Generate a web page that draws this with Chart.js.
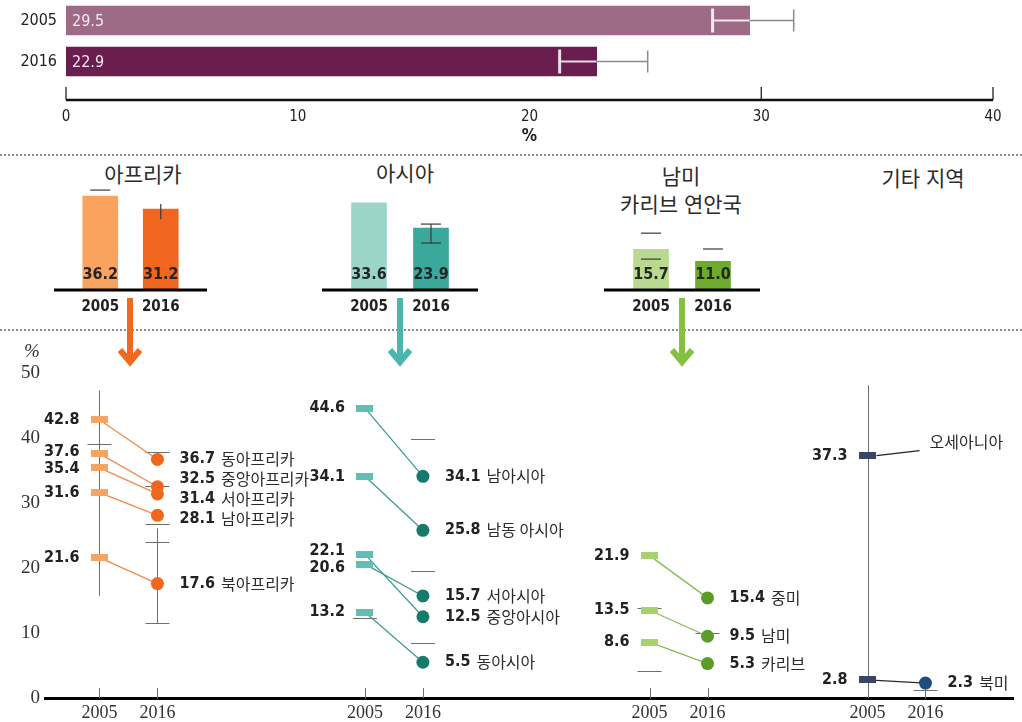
<!DOCTYPE html>
<html lang="ko">
<head>
<meta charset="utf-8">
<title>빈곤율 2005–2016</title>
<script src="https://cdn.jsdelivr.net/npm/chart.js@4.4.1/dist/chart.umd.min.js"></script>
<style>
  html, body { margin: 0; padding: 0; background: #fff; }
  #page { position: relative; width: 1022px; height: 722px; overflow: hidden; background: #fff;
          font-family: 'Noto Sans CJK KR', 'Noto Sans', sans-serif; color: #2b2b2b; }
  .panel { position: absolute; }
  .dots { position: absolute; left: 0; width: 1022px; height: 0; border-top: 2px dotted #8c8c8c; }
  .title { position: absolute; width: 200px; text-align: center; font-size: 21px; line-height: 28px; }
  #pct { position: absolute; left: 24px; top: 340px; font: italic 19px 'Liberation Serif', serif; color: #333; }
  #arrows { position: absolute; left: 0; top: 0; pointer-events: none; }
</style>
</head>
<body>
<div id="page">
  <div class="panel" style="left:0;top:0;width:1022px;height:150px"><canvas id="worldChart"></canvas></div>
  <div class="dots" style="top:154px"></div>

  <div class="title" style="left:43px;top:159px">아프리카</div>
  <div class="title" style="left:305px;top:158px">아시아</div>
  <div class="title" style="left:581px;top:161px">남미<br>카리브 연안국</div>
  <div class="title" style="left:823px;top:163px">기타 지역</div>

  <div class="panel" style="left:50px;top:181px;width:161px;height:139px"><canvas id="africaChart"></canvas></div>
  <div class="panel" style="left:318px;top:181px;width:164px;height:139px"><canvas id="asiaChart"></canvas></div>
  <div class="panel" style="left:600px;top:181px;width:164px;height:139px"><canvas id="latamChart"></canvas></div>

  <div class="dots" style="top:329px"></div>

  <div class="panel" style="left:0;top:340px;width:1022px;height:382px"><canvas id="regionChart"></canvas></div>
  <div id="pct">%</div>

  <svg id="arrows" width="1022" height="722">
    <g fill="none" stroke-width="6" stroke-linejoin="miter">
      <path d="M130 298 V362 M120 350 L130 362 L140 350" stroke="#ee6a1f"/>
      <path d="M400 298 V362 M390 350 L400 362 L410 350" stroke="#4bb6ad"/>
      <path d="M682 298 V362 M672 350 L682 362 L692 350" stroke="#84c042"/>
    </g>
  </svg>
</div>

<script>
// ---- data ----
const years = ['2005', '2016'];

// world total, with confidence range
const worldValues = [29.5, 22.9];
const worldCI = [[27.9, 31.4], [21.3, 25.1]];
const worldAxisMarks = [0, 30, 40];

// regional totals
const africaTotal = [36.2, 31.2];
const asiaTotal = [33.6, 23.9];
const latamTotal = [15.7, 11.0];
// error marks on the regional bars: cap values and vertical stems
const africaTotalCaps = [[38.5], []];
const africaTotalStems = [null, [27.3, 33.1]];
const asiaTotalCaps = [[], [18.1, 25.4]];
const asiaTotalStems = [null, [18.1, 25.4]];
const latamTotalCaps = [[11.9, 21.9], [15.8]];
const latamTotalStems = [null, null];

// subregions
const africaNames = ['동아프리카', '중앙아프리카', '서아프리카', '남아프리카', '북아프리카'];
const africa2005 = [42.8, 37.6, 35.4, 31.6, 21.6];
const africa2016 = [36.7, 32.5, 31.4, 28.1, 17.6];

const asiaNames = ['남아시아', '남동 아시아', '서아시아', '중앙아시아', '동아시아'];
const asia2005 = [44.6, 34.1, 20.6, 22.1, 13.2];
const asia2016 = [34.1, 25.8, 15.7, 12.5, 5.5];

const latamNames = ['중미', '남미', '카리브'];
const latam2005 = [21.9, 13.5, 8.6];
const latam2016 = [15.4, 9.5, 5.3];

const otherNames = ['오세아니아', '북미'];
const other2005 = [37.3, 2.8];
const other2016 = [null, 2.3];

// grey range lines [slot, low, high] and dashes [slot, value]
const africaRanges = [[0, 15.7, 47.3], [1, 11.4, 26.1]];
const africaDashes = [[0, 39.1], [1, 37.8], [1, 32.6], [1, 26.7], [1, 24.0], [1, 11.6]];
const asiaRanges = [];
const asiaDashes = [[0, 12.3], [1, 39.8], [1, 19.6], [1, 8.4]];
const latamRanges = [];
const latamDashes = [[0, 13.9], [0, 4.2], [1, 10.0]];
const otherRanges = [[0, 0, 48.1]];
const otherDashes = [[1, 1.3]];

// ---- look ----
const NARROW = "'Liberation Sans Narrow', 'DejaVu Sans Condensed', 'Roboto', sans-serif";
const SERIF = "'Liberation Serif', 'DejaVu Serif', serif";
const HANGUL = "'Noto Sans CJK KR', 'Noto Sans', sans-serif";

const worldColors = ['#9d6b86', '#6a1d4f'];
const groupSlot = [0, 4.58, 9.49, 13.25];   // x position of each group's 2005 column
const groupColors = [
  { light: '#f8a35f', dark: '#f0661c', line: '#f0894b' },
  { light: '#5fbfb3', dark: '#167a6c', line: '#3c9d90' },
  { light: '#a6d16c', dark: '#5a9c28', line: '#86bd50' },
  { light: '#3a4563', dark: '#1d4e7c', line: '#2a2a2a' }
];

Chart.defaults.font.family = NARROW;
Chart.defaults.color = '#222';
Chart.defaults.animation = false;
Chart.defaults.maintainAspectRatio = false;
Chart.defaults.plugins.legend.display = false;
Chart.defaults.plugins.tooltip.enabled = false;

// ---- world bars ----
const worldDecor = {
  id: 'worldDecor',
  afterDatasetsDraw(chart) {
    const { ctx, chartArea, scales: { x } } = chart;
    const axisY = chartArea.bottom + 18;
    ctx.save();
    ctx.strokeStyle = '#111';
    ctx.lineWidth = 2.5;
    ctx.beginPath();
    ctx.moveTo(x.left, axisY);
    ctx.lineTo(x.right, axisY);
    ctx.stroke();
    ctx.lineWidth = 1.2;
    worldAxisMarks.forEach(v => {
      const px = x.getPixelForValue(v);
      ctx.beginPath();
      ctx.moveTo(px, axisY);
      ctx.lineTo(px, axisY - 13);
      ctx.stroke();
    });

    const bars = chart.getDatasetMeta(0).data;
    bars.forEach((bar, i) => {
      const [lo, hi] = worldCI[i];
      const pLo = x.getPixelForValue(lo);
      const pHi = x.getPixelForValue(hi);
      const end = bar.x;
      const y = bar.y;
      // part of the range inside the bar
      ctx.strokeStyle = 'rgba(255,255,255,0.85)';
      ctx.lineWidth = 2;
      ctx.beginPath();
      ctx.moveTo(pLo, y);
      ctx.lineTo(Math.min(pHi, end), y);
      ctx.stroke();
      ctx.lineWidth = 3;
      ctx.beginPath();
      ctx.moveTo(pLo, y - 12);
      ctx.lineTo(pLo, y + 12);
      ctx.stroke();
      // part sticking out of the bar
      if (pHi > end) {
        ctx.strokeStyle = '#8a8a8a';
        ctx.lineWidth = 1.5;
        ctx.beginPath();
        ctx.moveTo(end, y);
        ctx.lineTo(pHi, y);
        ctx.moveTo(pHi, y - 11);
        ctx.lineTo(pHi, y + 11);
        ctx.stroke();
      }
      ctx.fillStyle = '#f4e8ee';
      ctx.font = '16px ' + NARROW;
      ctx.textAlign = 'left';
      ctx.textBaseline = 'middle';
      ctx.fillText(worldValues[i].toFixed(1), bar.base + 6, y + 1);
    });
    ctx.restore();
  }
};

new Chart(document.getElementById('worldChart'), {
  type: 'bar',
  data: {
    labels: years,
    datasets: [{ data: worldValues, backgroundColor: worldColors, barThickness: 29 }]
  },
  options: {
    indexAxis: 'y',
    layout: { padding: { left: 0, right: 29, top: 0, bottom: 0 } },
    scales: {
      y: {
        grid: { display: false, drawTicks: false },
        border: { display: false },
        ticks: { font: { size: 16 }, padding: 9, color: '#222' },
        afterFit: s => { s.width = 66; s.paddingTop = 0; s.paddingBottom = 0; }
      },
      x: {
        min: 0, max: 40,
        grid: { display: false, drawTicks: false },
        border: { display: false },
        ticks: { stepSize: 10, font: { size: 15 }, padding: 26, color: '#222' },
        title: { display: true, text: '%', font: { size: 17, weight: 'bold' }, padding: { top: 0, bottom: 3 } },
        afterFit: s => { s.height = 68; s.paddingLeft = 0; s.paddingRight = 0; }
      }
    }
  },
  plugins: [worldDecor]
});

// ---- regional totals ----
function miniDecor(caps, stems) {
  return {
    id: 'miniDecor',
    afterDatasetsDraw(chart) {
      const { ctx, chartArea, scales: { y } } = chart;
      ctx.save();
      ctx.strokeStyle = '#000';
      ctx.lineWidth = 3;
      ctx.beginPath();
      ctx.moveTo(chartArea.left - 16, chartArea.bottom);
      ctx.lineTo(chartArea.right + 16, chartArea.bottom);
      ctx.stroke();

      const bars = chart.getDatasetMeta(0).data;
      bars.forEach((bar, i) => {
        ctx.strokeStyle = '#3a3a3a';
        ctx.lineWidth = 1.2;
        if (stems[i]) {
          ctx.beginPath();
          ctx.moveTo(bar.x, y.getPixelForValue(stems[i][0]));
          ctx.lineTo(bar.x, y.getPixelForValue(stems[i][1]));
          ctx.stroke();
        }
        caps[i].forEach(v => {
          const py = y.getPixelForValue(v);
          ctx.beginPath();
          ctx.moveTo(bar.x - 10, py);
          ctx.lineTo(bar.x + 10, py);
          ctx.stroke();
        });
        ctx.fillStyle = '#262626';
        ctx.font = 'bold 16px ' + NARROW;
        ctx.textAlign = 'center';
        ctx.textBaseline = 'middle';
        ctx.fillText(chart.data.datasets[0].data[i].toFixed(1), bar.x, bar.base - 15);
      });
      ctx.restore();
    }
  };
}

function miniChart(id, values, colors, caps, stems) {
  return new Chart(document.getElementById(id), {
    type: 'bar',
    data: { labels: years, datasets: [{ data: values, backgroundColor: colors, barThickness: 35 }] },
    options: {
      layout: { padding: { left: 20, right: 20, top: 0, bottom: 0 } },
      scales: {
        y: { display: false, min: 0, max: 42 },
        x: {
          grid: { display: false, drawTicks: false },
          border: { display: false },
          ticks: { font: { size: 15, weight: '600' }, padding: 8, color: '#222' },
          afterFit: s => { s.height = 30; }
        }
      }
    },
    plugins: [miniDecor(caps, stems)]
  });
}

miniChart('africaChart', africaTotal, ['#f9a35f', '#f0661e'], africaTotalCaps, africaTotalStems);
miniChart('asiaChart', asiaTotal, ['#9bd5ca', '#3aa89b'], asiaTotalCaps, asiaTotalStems);
miniChart('latamChart', latamTotal, ['#b9da8e', '#6cab2c'], latamTotalCaps, latamTotalStems);

// ---- subregions, 2005 -> 2016 ----
const groups = [
  { names: africaNames, v05: africa2005, v16: africa2016, ranges: africaRanges, dashes: africaDashes },
  { names: asiaNames, v05: asia2005, v16: asia2016, ranges: asiaRanges, dashes: asiaDashes },
  { names: latamNames, v05: latam2005, v16: latam2016, ranges: latamRanges, dashes: latamDashes },
  { names: otherNames, v05: other2005, v16: other2016, ranges: otherRanges, dashes: otherDashes }
];

const markerCache = {};
function rectMarker(color) {
  if (!markerCache[color]) {
    const c = document.createElement('canvas');
    c.width = 17;
    c.height = 7;
    const g = c.getContext('2d');
    g.fillStyle = color;
    g.fillRect(0, 0, 17, 7);
    markerCache[color] = c;
  }
  return markerCache[color];
}

const datasets = [];
groups.forEach((g, gi) => {
  const slot = groupSlot[gi];
  const col = groupColors[gi];
  g.names.forEach((name, i) => {
    datasets.push({
      label: name,
      group: gi,
      index05: i,
      data: [{ x: slot, y: g.v05[i] }, { x: slot + 1, y: g.v16[i] }],
      borderColor: col.line,
      borderWidth: 1.3,
      pointStyle: [rectMarker(col.light), 'circle'],
      pointRadius: [9, 6.5],
      pointBackgroundColor: col.dark,
      pointBorderWidth: 0
    });
  });
});

// push labels apart so they never overlap, keeping each cluster centred
function spread(items, gap) {
  items.sort((a, b) => a.y - b.y);
  const clusters = [];
  for (const it of items) {
    let c = { items: [it], top: it.y };
    while (clusters.length) {
      const p = clusters[clusters.length - 1];
      if (p.top + p.items.length * gap <= c.top) break;
      clusters.pop();
      const all = p.items.concat(c.items);
      const mean = all.reduce((s, d) => s + d.y, 0) / all.length;
      c = { items: all, top: mean - (all.length - 1) * gap / 2 };
    }
    clusters.push(c);
  }
  clusters.forEach(c => c.items.forEach((it, k) => { it.ly = c.top + k * gap; }));
}

const regionDecor = {
  id: 'regionDecor',
  beforeDatasetsDraw(chart) {
    const { ctx, chartArea, scales: { x, y } } = chart;
    ctx.save();
    ctx.strokeStyle = '#6e6e6e';
    ctx.lineWidth = 1;
    groups.forEach((g, gi) => {
      const slot = groupSlot[gi];
      g.ranges.forEach(([s, lo, hi]) => {
        const px = Math.round(x.getPixelForValue(slot + s)) + 0.5;
        ctx.beginPath();
        ctx.moveTo(px, y.getPixelForValue(lo));
        ctx.lineTo(px, y.getPixelForValue(hi));
        ctx.stroke();
      });
      g.dashes.forEach(([s, v]) => {
        const px = x.getPixelForValue(slot + s);
        const py = Math.round(y.getPixelForValue(v)) + 0.5;
        ctx.beginPath();
        ctx.moveTo(px - 12, py);
        ctx.lineTo(px + 12, py);
        ctx.stroke();
      });
      [0, 1].forEach(s => {
        const px = Math.round(x.getPixelForValue(slot + s)) + 0.5;
        ctx.beginPath();
        ctx.moveTo(px, chartArea.bottom - 10);
        ctx.lineTo(px, chartArea.bottom);
        ctx.stroke();
      });
    });
    ctx.restore();
  },
  afterDatasetsDraw(chart) {
    const { ctx } = chart;
    const valueFont = 'bold 16px ' + NARROW;
    const nameFont = '16px ' + HANGUL;
    ctx.save();
    ctx.textBaseline = 'middle';
    groups.forEach((g, gi) => {
      const left = [];
      const right = [];
      chart.data.datasets.forEach((ds, di) => {
        if (ds.group !== gi) return;
        const pts = chart.getDatasetMeta(di).data;
        const i = ds.index05;
        if (g.v05[i] != null) left.push({ x: pts[0].x, y: pts[0].y, text: g.v05[i].toFixed(1) });
        if (g.v16[i] != null) {
          right.push({ x: pts[1].x, y: pts[1].y, text: g.v16[i].toFixed(1), name: g.names[i] });
        } else {
          // no 2016 value: name sits at the end of a leader line
          const px = pts[0].x, py = pts[0].y;
          ctx.strokeStyle = '#222';
          ctx.lineWidth = 1.2;
          ctx.beginPath();
          ctx.moveTo(px + 9, py);
          ctx.lineTo(px + 52, py - 5);
          ctx.stroke();
          ctx.fillStyle = '#2b2b2b';
          ctx.font = nameFont;
          ctx.textAlign = 'left';
          ctx.fillText(g.names[i], px + 62, py - 14);
        }
      });
      spread(left, 17);
      spread(right, 20);
      ctx.fillStyle = '#222';
      left.forEach(it => {
        ctx.font = valueFont;
        ctx.textAlign = 'right';
        ctx.fillText(it.text, it.x - 20, it.ly);
      });
      right.forEach(it => {
        ctx.font = valueFont;
        ctx.textAlign = 'left';
        ctx.fillStyle = '#222';
        ctx.fillText(it.text, it.x + 22, it.ly);
        const w = ctx.measureText(it.text).width;
        ctx.font = nameFont;
        ctx.fillStyle = '#2b2b2b';
        ctx.fillText(it.name, it.x + 22 + w + 6, it.ly);
      });
    });
    ctx.restore();
  }
};

new Chart(document.getElementById('regionChart'), {
  type: 'line',
  data: { datasets },
  options: {
    layout: { padding: { left: 0, right: 0, top: 33, bottom: 0 } },
    scales: {
      x: {
        type: 'linear',
        min: -0.94, max: 15.76,
        grid: { display: false, drawTicks: false },
        border: { display: true, color: '#000', width: 3 },
        afterBuildTicks: s => { s.ticks = groupSlot.flatMap(v => [{ value: v }, { value: v + 1 }]); },
        ticks: {
          callback: (v, i) => years[i % 2],
          autoSkip: false, maxRotation: 0,
          font: { family: SERIF, size: 18 }, color: '#333', padding: 4
        },
        afterFit: s => { s.height = 24; }
      },
      y: {
        min: 0, max: 50,
        grid: { display: false, drawTicks: false },
        border: { display: false },
        ticks: { stepSize: 10, font: { family: SERIF, size: 19 }, color: '#333', padding: 5 },
        afterFit: s => { s.width = 45; }
      }
    }
  },
  plugins: [regionDecor]
});
</script>
</body>
</html>
